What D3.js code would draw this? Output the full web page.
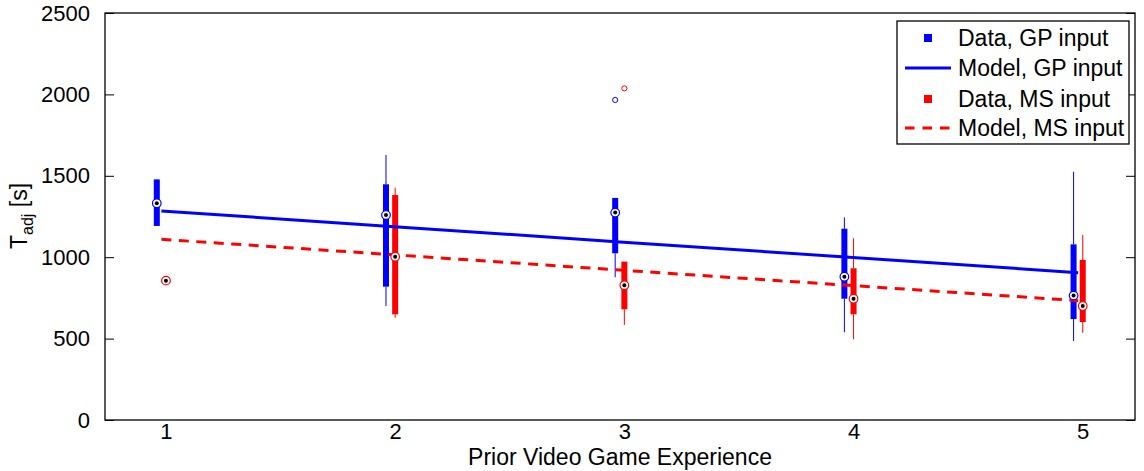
<!DOCTYPE html>
<html>
<head>
<meta charset="utf-8">
<script src="https://cdn.jsdelivr.net/npm/d3@7"></script>
<style>
    body { margin: 0; background: #fff; }
    svg text { font-family: "Liberation Sans", Arial, sans-serif; fill: #000; }
</style>
</head>
<body>
<svg id="chart" width="1144" height="471"></svg>
<script>
// experience levels (x categories)
var categories = [1, 2, 3, 4, 5];
var yTicks = [0, 500, 1000, 1500, 2000, 2500];

// GP input boxes
var gpWhiskerHigh = [1478, 1628, 1364, 1245, 1525];
var gpQ3 = [1478, 1448, 1364, 1175, 1079];
var gpMedian = [1331, 1259, 1274, 880, 764];
var gpQ1 = [1192, 819, 1024, 745, 620];
var gpWhiskerLow = [1192, 700, 877, 539, 485];
var gpOutliers = [[], [], [1966], [], []];

// MS input boxes
var msWhiskerHigh = [856, 1427, 973, 1116, 1136];
var msQ3 = [856, 1382, 973, 932, 983];
var msMedian = [856, 1003, 828, 745, 700];
var msQ1 = [856, 649, 680, 649, 602];
var msWhiskerLow = [856, 628, 584, 496, 536];
var msOutliers = [[], [], [2037], [], []];

// fitted models
var gpModel = [1284, 1189, 1094, 1000, 905];
var msModel = [1110, 1016, 921, 827, 733];

(function() {
    var svg = d3.select("#chart"),
        left = 105, right = 1135, top = 13, bottom = 420,
        blue = "#0000ff", red = "#ff0000";

    var x = d3.scaleLinear().domain([0.734, 5.228]).range([left, right]);
    var y = d3.scaleLinear().domain([0, 2500]).range([bottom, top]);

    // y axis left + right (ticks inward)
    svg.append("g")
        .attr("transform", "translate(" + left + ",0)")
        .call(d3.axisLeft(y).tickValues(yTicks).tickSize(-9).tickPadding(15).tickFormat(d3.format("d")))
        .call(function(g) {
            g.select(".domain").remove();
            g.selectAll("line").attr("stroke", "#000");
            g.selectAll("text").style("font-size", "22px").attr("fill", "#000");
        });
    svg.append("g")
        .attr("transform", "translate(" + right + ",0)")
        .call(d3.axisRight(y).tickValues(yTicks).tickSize(-9).tickFormat(""))
        .call(function(g) {
            g.select(".domain").remove();
            g.selectAll("line").attr("stroke", "#000");
        });

    // x axis labels only (no tick marks)
    svg.append("g")
        .attr("transform", "translate(0," + bottom + ")")
        .call(d3.axisBottom(x).tickValues(categories).tickSize(0).tickPadding(3).tickFormat(d3.format("d")))
        .call(function(g) {
            g.select(".domain").remove();
            g.selectAll("text").style("font-size", "22px").attr("fill", "#000");
        });

    function drawBoxes(off, color, wHi, q3, med, q1, wLo, outl) {
        var g = svg.append("g");
        categories.forEach(function(c, i) {
            var cx = x(c + off);
            if (wHi[i] > q3[i]) {
                g.append("line").attr("x1", cx).attr("x2", cx)
                    .attr("y1", y(wHi[i])).attr("y2", y(q3[i]))
                    .attr("stroke", color).attr("stroke-width", 1);
            }
            if (wLo[i] < q1[i]) {
                g.append("line").attr("x1", cx).attr("x2", cx)
                    .attr("y1", y(q1[i])).attr("y2", y(wLo[i]))
                    .attr("stroke", color).attr("stroke-width", 1);
            }
            if (q3[i] > q1[i]) {
                g.append("rect").attr("x", cx - 3).attr("width", 6)
                    .attr("y", y(q3[i])).attr("height", y(q1[i]) - y(q3[i]))
                    .attr("fill", color);
            }
            outl[i].forEach(function(v) {
                g.append("circle").attr("cx", cx).attr("cy", y(v)).attr("r", 2.6)
                    .attr("fill", "none").attr("stroke", color).attr("stroke-width", 1);
            });
        });
    }

    function drawMedians(off, color, med) {
        var g = svg.append("g");
        categories.forEach(function(c, i) {
            var cx = x(c + off);
            g.append("circle").attr("cx", cx).attr("cy", y(med[i])).attr("r", 4.3)
                .attr("fill", "#fff").attr("stroke", color).attr("stroke-width", 1.2);
            g.append("circle").attr("cx", cx).attr("cy", y(med[i])).attr("r", 2)
                .attr("fill", "#000");
        });
    }

    drawBoxes(-0.04, blue, gpWhiskerHigh, gpQ3, gpMedian, gpQ1, gpWhiskerLow, gpOutliers);
    drawBoxes(0, red, msWhiskerHigh, msQ3, msMedian, msQ1, msWhiskerLow, msOutliers);

    var line = d3.line()
        .x(function(d, i) { return x(categories[i] - 0.02); })
        .y(function(d) { return y(d); });

    svg.append("path").datum(gpModel).attr("d", line)
        .attr("fill", "none").attr("stroke", blue).attr("stroke-width", 3);
    svg.append("path").datum(msModel).attr("d", line)
        .attr("fill", "none").attr("stroke", red).attr("stroke-width", 3)
        .attr("stroke-dasharray", "10,7.5");

    drawMedians(-0.04, blue, gpMedian);
    drawMedians(0, red, msMedian);

    // frame
    svg.append("rect").attr("x", left).attr("y", top)
        .attr("width", right - left).attr("height", bottom - top)
        .attr("fill", "none").attr("stroke", "#000").attr("stroke-width", 1.3);

    // axis titles
    svg.append("text")
        .attr("x", 620).attr("y", 465)
        .attr("text-anchor", "middle").style("font-size", "23px")
        .text("Prior Video Game Experience");

    var yl = svg.append("text")
        .attr("transform", "translate(27,216) rotate(-90)")
        .attr("text-anchor", "middle").style("font-size", "23px");
    yl.append("tspan").text("T");
    yl.append("tspan").attr("dy", 6).style("font-size", "16px").text("adj");
    yl.append("tspan").attr("dy", -6).text(" [s]");

    // legend
    var leg = svg.append("g");
    leg.append("rect").attr("x", 897).attr("y", 21).attr("width", 232).attr("height", 123)
        .attr("fill", "#fff").attr("stroke", "#000").attr("stroke-width", 1.3);
    var items = [
        {label: "Data, GP input", color: blue, kind: "box"},
        {label: "Model, GP input", color: blue, kind: "line"},
        {label: "Data, MS input", color: red, kind: "box"},
        {label: "Model, MS input", color: red, kind: "dash"}
    ];
    var rowY = [38, 68, 99, 128];
    items.forEach(function(it, i) {
        var cy = rowY[i];
        if (it.kind === "box") {
            leg.append("rect").attr("x", 924).attr("y", cy - 4).attr("width", 8).attr("height", 8)
                .attr("fill", it.color);
        } else {
            leg.append("line").attr("x1", 905).attr("x2", 951).attr("y1", cy).attr("y2", cy)
                .attr("stroke", it.color).attr("stroke-width", 3)
                .attr("stroke-dasharray", it.kind === "dash" ? "9.5,8" : null);
        }
        leg.append("text").attr("x", 958).attr("y", cy + 8)
            .style("font-size", "23px").text(it.label);
    });
})();
</script>
</body>
</html>
